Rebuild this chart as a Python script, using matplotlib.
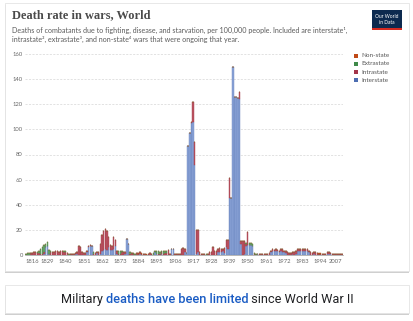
import matplotlib.pyplot as plt
import numpy as np
from matplotlib.patches import Rectangle

years = np.arange(1816, 2008)

# death rate per 100,000, one row per decade starting 1816
interstate = [
    0, 0, 0, 0, 0, 0, 0, 0, 0, 0,
    0, 0.5, 6, 7, 1, 0, 0, 0, 0, 0,
    0, 0, 0, 0, 0, 0, 0, 0, 0, 0,
    0.5, 1, 0, 0, 0, 0, 0, 2, 6.5, 7,
    7.5, 0, 0, 1.5, 0, 0.5, 3, 4, 4.5, 4,
    6, 4, 4, 5, 7, 1, 0, 0, 0, 0,
    1, 12.5, 9, 0, 0, 0, 0, 0, 0, 0.5,
    0, 0, 0, 0, 0, 0, 0, 0, 2, 1,
    0, 0, 0.5, 0, 0, 0, 0, 0, 5, 5,
    0, 0, 0, 0, 0, 0, 2, 1.5, 87, 97,
    105, 106, 72, 1, 2, 0, 0, 0, 0, 0,
    0, 0, 0, 0, 0, 0, 2, 2.5, 2.5, 3,
    1.5, 6, 5, 45, 45, 150, 126, 126, 125, 124,
    9, 0, 1, 7, 8, 8, 8, 7.5, 0, 0,
    0.5, 0, 0, 0, 0, 0, 0, 0, 2, 3,
    3, 3.5, 3, 2.5, 3, 2.5, 2, 1.5, 0, 0,
    0, 0.5, 0, 1, 3, 3.5, 3.5, 3.5, 3, 3,
    3, 2, 0, 0, 0.5, 0, 0, 0, 0, 0,
    0, 0, 1, 1, 0.5, 0, 0, 0, 0, 0,
    0, 0,
]
intrastate = [
    0, 0, 0.3, 1.5, 1.8, 2, 2, 1.5, 1.5, 1,
    1, 1.5, 0, 0, 0, 2.5, 2, 2.5, 2.8, 2.8,
    2.5, 3, 3, 2.5, 2, 1.5, 0, 0.8, 1, 0.8,
    1, 1, 7.5, 6, 2, 1.5, 1.5, 1, 1, 1,
    0, 1, 1.5, 1, 2, 8, 13, 15, 16, 15,
    8, 4, 3, 9, 5, 2, 1, 1, 2, 2,
    1, 0, 0, 1, 1.5, 1, 0, 1.5, 0.5, 1.5,
    1, 0.5, 0.5, 0.3, 0.5, 1.5, 0.5, 0, 0, 0,
    1, 0.5, 1.5, 1, 1.5, 1.5, 4, 1, 0, 0,
    0.5, 0.5, 0.5, 0.5, 5, 5.5, 3, 0, 0, 0,
    1, 16, 18, 19, 18, 2, 1, 0.5, 0.8, 0,
    1, 2, 2.5, 6.5, 3, 3.5, 2.5, 3, 2.5, 1.5,
    4, 6, 7, 16, 0, 0, 0, 0, 0, 6,
    2.5, 11, 10, 1.5, 10, 0, 0, 0, 1, 0,
    0.5, 0.5, 0.5, 0.5, 1, 0.8, 1, 1.5, 1.5, 1.5,
    1, 1, 1, 1, 1.5, 2, 1.5, 1.5, 2, 1.5,
    1.5, 1.5, 2, 2, 1.5, 1.5, 1.5, 1.5, 1.5, 1.5,
    1.5, 1.5, 2, 1.5, 1.5, 2, 1.5, 1, 1, 0.8,
    0.5, 0.7, 1, 1, 1, 0.8, 0.5, 0.5, 0.4, 0.4,
    0.4, 0.5,
]
extrastate = [
    1, 1.2, 1, 0, 0, 0, 0.5, 1, 1.5, 4,
    5, 6, 3, 3.5, 3, 1, 0, 0, 0, 0,
    0, 0, 0.5, 1, 1, 0, 1, 0, 0, 0,
    0, 0, 0, 0, 0, 0, 0, 0, 0, 0,
    0, 1, 0, 0, 0, 0, 0, 0, 0, 0,
    0, 0, 0, 0, 0, 0, 2, 2.5, 1.5, 0,
    0, 0, 0, 1, 0, 0.5, 1, 0, 0, 0,
    0, 0, 0, 0, 0, 0, 0, 1.5, 1, 2,
    2, 1.5, 1, 2, 2, 1.5, 0, 0, 0, 0,
    0, 0, 0, 0, 0, 0, 0, 0, 0, 0,
    0, 0, 0, 0, 0, 0, 0, 0, 0, 1,
    0, 0, 0, 0, 0, 0, 0, 0, 0, 0,
    0, 0, 0, 0, 0, 0, 0, 0, 0, 0,
    0, 0, 0, 1, 0, 1.5, 1.5, 1, 0.5, 0.5,
    0, 0, 0, 0, 0, 0, 0, 0, 0, 0,
    0, 0, 0, 0, 0, 0, 0, 0, 0, 0,
    0, 0, 0, 0, 0, 0, 0, 0, 0, 0,
    0, 0, 0, 0, 0, 0, 0, 0, 0, 0,
    0, 0, 0, 0, 0, 0, 0, 0, 0, 0,
    0, 0,
]
nonstate = [
    0, 0, 0, 0, 0, 0, 0, 0, 0, 0,
    0, 0, 0, 0, 0, 0, 0, 0, 0, 0,
    0, 0, 0, 0, 0, 0, 0, 0, 0, 0,
    0, 0, 0, 0, 0, 0, 0, 0, 0, 0,
    0, 0, 0, 0, 0, 0, 0, 0, 0, 0,
    0, 0, 0, 0, 0, 0, 0, 0, 0, 0,
    0, 0, 0, 0, 0, 0, 0, 0, 0.8, 0,
    0.3, 0.3, 0.3, 0.2, 0, 0, 0, 0, 0, 0,
    0, 0, 0, 0, 0, 0, 0, 0, 0, 0,
    0, 0, 0, 0, 0, 0, 0, 0, 0, 0,
    0, 0, 0, 0, 0, 0, 0, 0, 0, 0,
    0, 0, 0, 0, 0, 0, 0, 0, 0, 0,
    0, 0, 0, 0, 0, 0, 0, 0, 0, 0,
    0, 0, 0, 0, 0, 0, 0, 0, 0, 0,
    0, 0, 0, 0, 0, 0, 0, 0, 0, 0,
    0, 0, 0, 0, 0, 0, 0, 0, 0, 0,
    0, 0, 0, 0, 0, 0, 0, 0, 0, 0,
    0, 0, 0, 0.3, 0.3, 0.3, 0.3, 0.2, 0.2, 0.2,
    0.2, 0.2, 0.2, 0.2, 0.2, 0.2, 0.2, 0.2, 0.2, 0.2,
    0.2, 0.2,
]

series = ['Interstate', 'Intrastate', 'Extrastate', 'Non-state']
values = [interstate, intrastate, extrastate, nonstate]
bar_colors = ['#8aa3d6', '#bb5260', '#69a469', '#c5622a']
edge_colors = ['#6a86c0', '#a5404e', '#4f8c4f', '#a84c1a']
legend_colors = ['#4c6db1', '#a3344a', '#3f8a4a', '#c04a17']

xtick_years = [1816, 1829, 1840, 1851, 1862, 1873, 1884, 1895, 1906, 1917,
               1928, 1939, 1950, 1961, 1972, 1983, 1994, 2007]
yticks = [0, 20, 40, 60, 80, 100, 120, 140, 160]

W, H = 414, 321
fig = plt.figure(figsize=(W / 100, H / 100), dpi=100)
fig.patch.set_facecolor('white')

def fx(px):
    return px / W

def fy(py):
    return 1 - py / H

# cards with a soft shadow
for top, bot in [(3, 271), (285, 313)]:
    fig.add_artist(Rectangle((fx(5), fy(bot + 1.5)), fx(404), (bot - top) / H,
                             transform=fig.transFigure, facecolor='#cfcfcf',
                             edgecolor='none', zorder=-2))
    fig.add_artist(Rectangle((fx(5), fy(bot)), fx(404), (bot - top) / H,
                             transform=fig.transFigure, facecolor='white',
                             edgecolor='#e4e4e4', linewidth=0.6, zorder=-1))

ax = fig.add_axes([fx(25), fy(255), fx(318), 201 / H])
ax.set_facecolor('none')
ax.set_zorder(2)

bottom = np.zeros(len(years))
for name, vals, c, ec in zip(series, values, bar_colors, edge_colors):
    vals = np.array(vals, dtype=float)
    ax.bar(years, vals, width=0.85, bottom=bottom, color=c, edgecolor=ec,
           linewidth=0.3, label=name, zorder=3)
    bottom += vals

ax.set_xlim(1815.5, 2007.5)
ax.set_ylim(0, 160)
ax.set_yticks(yticks)
ax.set_xticks(xtick_years)
ax.tick_params(axis='both', length=0, labelsize=4.2, labelcolor='#666666')
ax.tick_params(axis='y', pad=1.5)
ax.tick_params(axis='x', pad=3)
for lab in ax.get_xticklabels() + ax.get_yticklabels():
    lab.set_family('Lato')
xlabs = ax.get_xticklabels()
xlabs[0].set_horizontalalignment('left')
xlabs[-1].set_horizontalalignment('right')
ax.grid(axis='y', color='#d6d6d6', linestyle=(0, (3, 2)), linewidth=0.5, zorder=0)
for s in ['top', 'right', 'left']:
    ax.spines[s].set_visible(False)
ax.spines['bottom'].set_color('#999999')
ax.spines['bottom'].set_linewidth(0.5)

# title and subtitle
fig.text(fx(12), fy(18), 'Death rate in wars, World', family='Liberation Serif',
         fontsize=8.9, weight='bold', color='#4a4a4a', va='baseline')
fig.text(fx(12), fy(33), 'Deaths of combatants due to fighting, disease, and starvation, '
         'per 100,000 people. Included are interstate¹,', family='Lato',
         fontsize=5.15, color='#5b5b5b', va='baseline')
fig.text(fx(12), fy(41.5), 'intrastate², extrastate³, and non-state⁴ wars that were '
         'ongoing that year.', family='Lato', fontsize=5.15, color='#5b5b5b', va='baseline')

# logo
fig.add_artist(Rectangle((fx(372), fy(29.5)), fx(30), 19.5 / H, transform=fig.transFigure,
                         facecolor='#0d2a4f', edgecolor='none'))
fig.add_artist(Rectangle((fx(372), fy(29.5)), fx(30), 1.2 / H, transform=fig.transFigure,
                         facecolor='#d42b21', edgecolor='none'))
fig.text(fx(387), fy(19.5), 'Our World\nin Data', ha='center', va='center',
         fontsize=3.5, color='white', family='Lato', linespacing=1.0)

# legend (top to bottom: reverse stacking order)
for i, (name, c) in enumerate(zip(series[::-1], legend_colors[::-1])):
    yc = 55.5 + i * 8.3
    fig.add_artist(Rectangle((fx(354), fy(yc + 2)), fx(4), 4 / H,
                             transform=fig.transFigure, facecolor=c, edgecolor='none'))
    fig.text(fx(361), fy(yc), name, va='center', fontsize=4.6, color='#555555',
             family='Lato')

# caption in the lower card
t1 = ax.annotate('Military ', xy=(fx(61), fy(303)), xycoords='figure fraction',
                 fontsize=9.15, color='#202124', family='Roboto', va='baseline',
                 annotation_clip=False)
t2 = ax.annotate('deaths have been limited', xy=(1, 0), xycoords=t1, fontsize=9.15,
                 color='#1a5cc4', family='Roboto', weight='medium', va='bottom',
                 annotation_clip=False)
t3 = ax.annotate(' since World War II', xy=(1, 0), xycoords=t2, fontsize=9.15,
                 color='#202124', family='Roboto', va='bottom', annotation_clip=False)

fig.savefig('out.png', dpi=100)
